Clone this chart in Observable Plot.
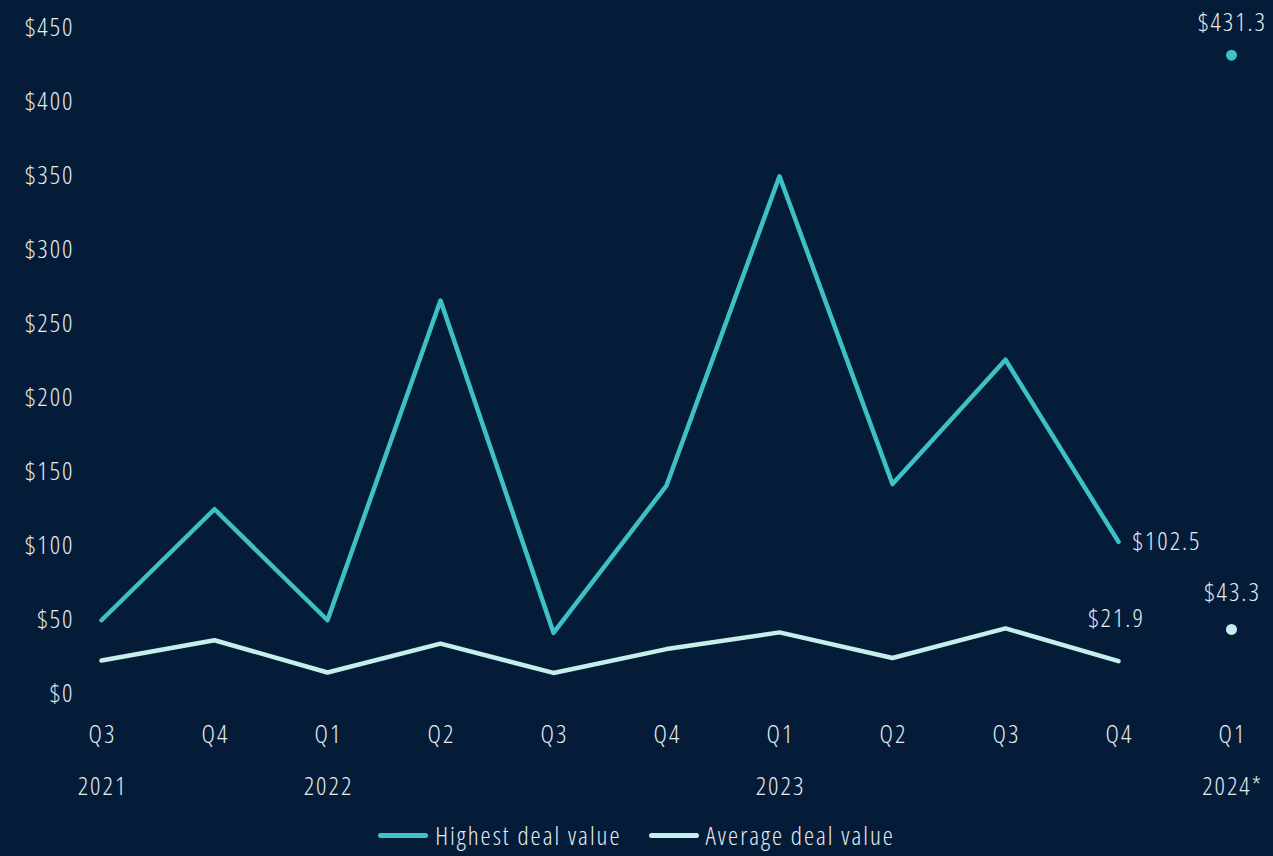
<!DOCTYPE html>
<html>
<head>
<meta charset="utf-8">
<script src="https://cdn.jsdelivr.net/npm/d3@7"></script>
<script src="https://cdn.jsdelivr.net/npm/@observablehq/plot@0.6"></script>
<style>
  html, body { margin: 0; padding: 0; background: #041c37; }
  #chart { position: relative; width: 1273px; height: 856px; background: #041c37;
    font-family: "Open Sans", "DejaVu Sans Condensed", sans-serif; font-stretch: 75%; font-weight: 300; color: #e6ebf0; letter-spacing: 2px; }
  #chart svg { display: block; font-stretch: 75%; font-weight: 300; letter-spacing: 2px; }
  .legend { position: absolute; top: 818px; left: 0; width: 1273px; display: flex; justify-content: center;
    align-items: center; gap: 27px; font-size: 25.5px; color: #e6ebf0; }
  .legend .item { display: flex; align-items: center; gap: 7px; }
  .legend .sw { width: 50px; height: 5px; border-radius: 3px; display: inline-block; }
</style>
</head>
<body>
<div id="chart"></div>
<script>
// ---- data ----
const quarters = ["Q3", "Q4", "Q1", "Q2", "Q3", "Q4", "Q1", "Q2", "Q3", "Q4", "Q1"];
const periodYears = [2021, 2021, 2022, 2022, 2022, 2022, 2023, 2023, 2023, 2023, 2024];
const highest = [49.5, 124.5, 49.5, 265.5, 41, 140.5, 349.5, 141.5, 225.5, 102.5, 431.3];
const average = [22.3, 36, 14.2, 33.7, 13.9, 30, 41.3, 24, 44, 21.9, 43.3];
const yearTickKeys = ["Q3 2021", "Q1 2022", "Q1 2023", "Q1 2024"];
const yearTickLabels = ["2021", "2022", "2023", "2024*"];
const yTicks = [0, 50, 100, 150, 200, 250, 300, 350, 400, 450];
const seriesNames = ["Highest deal value", "Average deal value"];
const seriesColors = ["#3dc1c7", "#c6eeea"];

// ---- derived tables ----
const keys = quarters.map((q, i) => q + " " + periodYears[i]);
const lineCount = 10; // Q3 2021 .. Q4 2023 connected; Q1 2024 shown as dot only
const rowsHigh = keys.map((k, i) => ({ key: k, value: highest[i] }));
const rowsAvg = keys.map((k, i) => ({ key: k, value: average[i] }));
const yearMap = new Map(yearTickKeys.map((k, i) => [k, yearTickLabels[i]]));
const fmt = v => "$" + v.toFixed(1);

const textColor = "#e6ebf0";
const font = '"Open Sans", "DejaVu Sans Condensed", sans-serif';
const fs = 25.5;

const last = lineCount - 1;
const dotIdx = keys.length - 1;

const plot = Plot.plot({
  width: 1273,
  height: 815,
  marginLeft: 101,
  marginRight: 42,
  marginTop: 27,
  marginBottom: 122,
  style: { background: "transparent", color: textColor, fontFamily: font, fontSize: fs + "px", overflow: "visible" },
  x: { type: "point", domain: keys, padding: 0 },
  y: { domain: [0, 450] },
  marks: [
    Plot.axisY({ ticks: yTicks, tickSize: 0, tickPadding: 27, tickFormat: d => "$" + d, label: null, fontSize: fs, fill: textColor }),
    Plot.axisX({ tickSize: 0, tickPadding: 31, tickFormat: k => k.split(" ")[0], label: null, fontSize: fs, fill: textColor, dx: 1 }),
    Plot.axisX({ ticks: yearTickKeys, tickSize: 0, tickPadding: 83, tickFormat: k => yearMap.get(k), label: null, fontSize: fs, fill: textColor, dx: 1 }),
    Plot.ruleY([0], { x1: keys[0], x2: keys[dotIdx], stroke: "#a9afb7", strokeWidth: 1.5 }),
    Plot.line(rowsHigh.slice(0, lineCount), { x: "key", y: "value", stroke: seriesColors[0], strokeWidth: 4.5, strokeLinejoin: "round", strokeLinecap: "round" }),
    Plot.line(rowsAvg.slice(0, lineCount), { x: "key", y: "value", stroke: seriesColors[1], strokeWidth: 4.5, strokeLinejoin: "round", strokeLinecap: "round" }),
    Plot.dot([rowsHigh[dotIdx]], { x: "key", y: "value", r: 5.5, fill: seriesColors[0], stroke: "none" }),
    Plot.dot([rowsAvg[dotIdx]], { x: "key", y: "value", r: 5.5, fill: seriesColors[1], stroke: "none" }),
    Plot.text([rowsHigh[dotIdx]], { x: "key", y: "value", text: d => fmt(d.value), dy: -32, dx: 1, fill: textColor, fontSize: fs }),
    Plot.text([rowsAvg[dotIdx]], { x: "key", y: "value", text: d => fmt(d.value), dy: -37, dx: 1, fill: textColor, fontSize: fs }),
    Plot.text([rowsHigh[last]], { x: "key", y: "value", text: d => fmt(d.value), dx: 14, dy: 0, textAnchor: "start", fill: textColor, fontSize: fs }),
    Plot.text([rowsAvg[last]], { x: "key", y: "value", text: d => fmt(d.value), dx: -2, dy: -42, fill: textColor, fontSize: fs })
  ]
});

const chart = document.getElementById("chart");
chart.appendChild(plot);

const legend = document.createElement("div");
legend.className = "legend";
seriesNames.forEach((name, i) => {
  const item = document.createElement("span");
  item.className = "item";
  const sw = document.createElement("span");
  sw.className = "sw";
  sw.style.background = seriesColors[i];
  const lab = document.createElement("span");
  lab.textContent = name;
  item.appendChild(sw);
  item.appendChild(lab);
  legend.appendChild(item);
});
chart.appendChild(legend);
</script>
</body>
</html>
